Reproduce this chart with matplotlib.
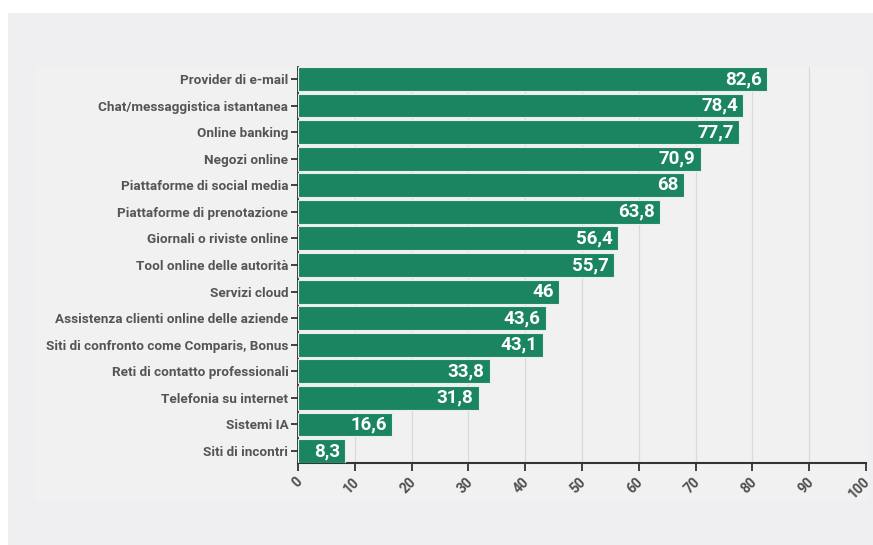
import matplotlib
matplotlib.use("Agg")
import matplotlib.pyplot as plt
from matplotlib.patches import Rectangle
from matplotlib import transforms

categories = [
    "Provider di e-mail",
    "Chat/messaggistica istantanea",
    "Online banking",
    "Negozi online",
    "Piattaforme di social media",
    "Piattaforme di prenotazione",
    "Giornali o riviste online",
    "Tool online delle autorità",
    "Servizi cloud",
    "Assistenza clienti online delle aziende",
    "Siti di confronto come Comparis, Bonus",
    "Reti di contatto professionali",
    "Telefonia su internet",
    "Sistemi IA",
    "Siti di incontri",
]
values = [82.6, 78.4, 77.7, 70.9, 68, 63.8, 56.4, 55.7, 46, 43.6, 43.1, 33.8, 31.8, 16.6, 8.3]
value_labels = ["82,6", "78,4", "77,7", "70,9", "68", "63,8", "56,4", "55,7", "46",
                "43,6", "43,1", "33,8", "31,8", "16,6", "8,3"]
x_ticks = [0, 10, 20, 30, 40, 50, 60, 70, 80, 90, 100]

plt.rcParams['font.family'] = ['Roboto', 'DejaVu Sans']

W, H = 873, 545
fig = plt.figure(figsize=(W / 100, H / 100), dpi=100, facecolor="white")

# background panels
fig.patches.append(Rectangle((8 / W, 0), 1 - 8 / W, 1 - 13 / H, transform=fig.transFigure,
                             facecolor="#efeff1", edgecolor="none", zorder=-10))
fig.patches.append(Rectangle((36 / W, 1 - 500 / H), (868 - 36) / W, (500 - 67) / H,
                             transform=fig.transFigure, facecolor="#f1f1f1",
                             edgecolor="none", zorder=-9))

ax = fig.add_axes([298 / W, 1 - 463 / H, (866 - 298) / W, (463 - 67) / H])
ax.set_facecolor("none")

ypos = list(range(len(categories)))
bars = ax.barh(ypos, values, height=0.9, color="#1a8560", edgecolor="#e6efea",
               linewidth=0.8, zorder=3)

for y, v, lab in zip(ypos, values, value_labels):
    ax.annotate(lab, xy=(v, y), xytext=(-3.8, 0), textcoords="offset points",
                ha="right", va="center", color="white", fontsize=13.5,
                fontweight="bold", zorder=4)

ax.set_xlim(0, 100)
ax.set_ylim(len(categories) - 0.55, -0.45)
ax.set_xticks(x_ticks)
ax.set_xticklabels([str(t) for t in x_ticks], rotation=45, ha="right",
                   va="center", rotation_mode="anchor", fontsize=10,
                   fontweight="bold", color="#505050")
ax.set_yticks(ypos)
ax.set_yticklabels(categories, fontsize=9.7, fontweight="bold", color="#555555")

ax.grid(axis="x", color="#dadada", linewidth=0.9, zorder=0)
ax.set_axisbelow(True)
for s in ["top", "right"]:
    ax.spines[s].set_visible(False)
ax.spines["left"].set_color("#333333")
ax.spines["bottom"].set_color("#333333")
ax.spines["left"].set_linewidth(1.3)
ax.spines["bottom"].set_linewidth(1.5)
ax.tick_params(axis="y", length=5, width=1.3, color="#333333", pad=2)
ax.tick_params(axis="x", length=6, width=1.3, color="#333333", pad=4)

offset = transforms.ScaledTranslation(1.5 / 72, -2 / 72, fig.dpi_scale_trans)
for lab in ax.get_xticklabels():
    lab.set_transform(lab.get_transform() + offset)

fig.savefig("out.png", dpi=100, facecolor="white")
